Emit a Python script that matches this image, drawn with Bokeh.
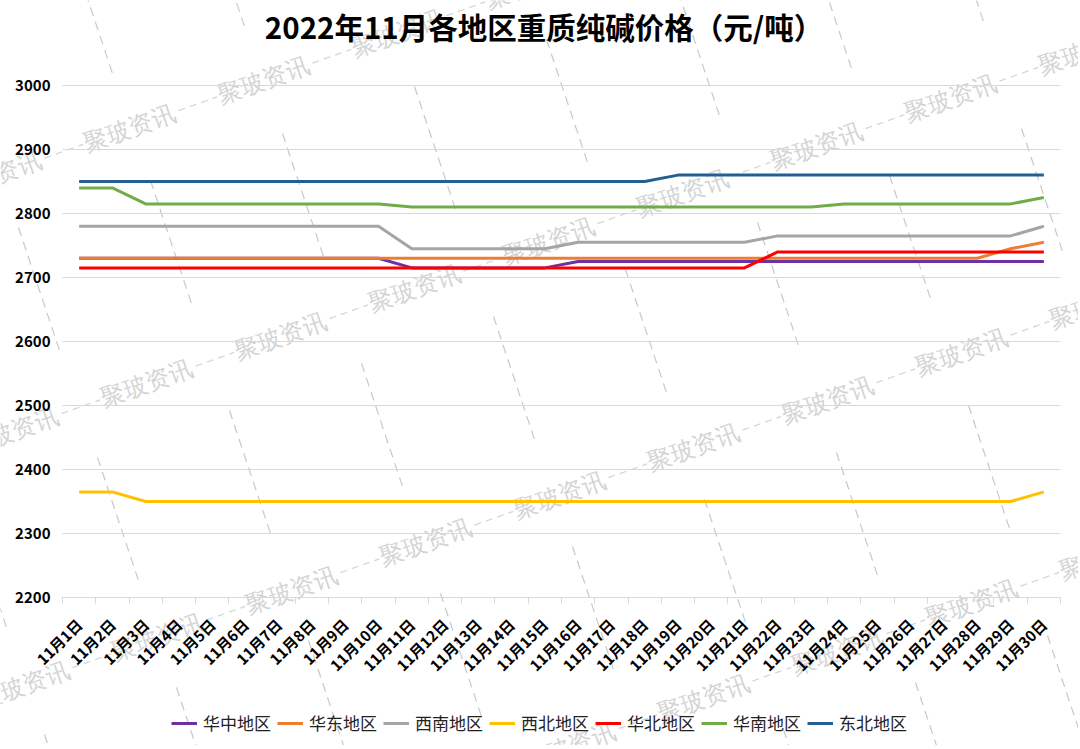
import math
from bokeh.plotting import figure
from bokeh.models import (FixedTicker, Legend, LegendItem, Label, LabelSet, Range1d,
                          Arrow, ColumnDataSource)
from bokeh.embed import file_html
from bokeh.resources import INLINE

# ---------------- data ----------------
days = list(range(1, 31))
day_labels = [f"11月{d}日" for d in days]
series_names = ["华中地区", "华东地区", "西南地区", "西北地区", "华北地区", "华南地区", "东北地区"]
huazhong = [2730] * 10 + [2715] * 5 + [2725] * 15
huadong = [2730] * 28 + [2745, 2755]
xinan = [2780] * 10 + [2745] * 5 + [2755] * 6 + [2765] * 8 + [2780]
xibei = [2365] * 2 + [2350] * 27 + [2365]
huabei = [2715] * 21 + [2740] * 9
huanan = [2840] * 2 + [2815] * 8 + [2810] * 13 + [2815] * 6 + [2825]
dongbei = [2850] * 18 + [2860] * 12
y_ticks = list(range(2200, 3001, 100))
title_text = "2022年11月各地区重质纯碱价格（元/吨）"
watermark_text = "聚玻资讯"

series_values = [huazhong, huadong, xinan, xibei, huabei, huanan, dongbei]
colors = ["#7030A0", "#ED7D31", "#A5A5A5", "#FFC000", "#FF0000", "#70AD47", "#255E91"]

# ---------------- geometry (page pixels) ----------------
W, H = 1078, 745
PL, PR, PT, PB = 62.0, 1060.0, 85.0, 597.0   # where x 0.5..30.5 and y 3000..2200 sit


def xd(px):
    return 0.5 + (px - PL) * 30.0 / (PR - PL)


def yd(py):
    return 3000.0 - (py - PT) * 800.0 / (PB - PT)


x_lo, x_hi = days[0] - 0.5, days[-1] + 0.5
y_lo, y_hi = y_ticks[0], y_ticks[-1]

p = figure(width=W, height=H, x_range=Range1d(xd(0), xd(W)), y_range=Range1d(yd(H), yd(0)),
           output_backend="svg", toolbar_location=None,
           min_border_left=0, min_border_right=0, min_border_top=0, min_border_bottom=0)
p.outline_line_color = None
p.background_fill_color = "white"
p.border_fill_color = "white"

# ---------------- watermark (decoration) ----------------
wm_color = "#D4D4D4"
step = (134.0, -47.5)
ln = math.hypot(*step)
u = (step[0] / ln, step[1] / ln)
ang = math.atan2(-step[1], step[0])
chain_origins = [(263, 80), (682, 193), (693, 447), (971, 603)]
tx, ty, dx0, dy0, dx1, dy1 = [], [], [], [], [], []
for ox, oy in chain_origins:
    for k in range(-10, 11):
        cx, cy = ox + k * step[0], oy + k * step[1]
        if -80 < cx < 1160 and -60 < cy < 800:
            tx.append(xd(cx)); ty.append(yd(cy))
            sx, sy = cx + u[0] * 52, cy + u[1] * 52
            ex, ey = cx + u[0] * 93, cy + u[1] * 93
            dx0.append(xd(sx)); dy0.append(yd(sy)); dx1.append(xd(ex)); dy1.append(yd(ey))
wm_src = ColumnDataSource(dict(x=tx, y=ty, t=[watermark_text] * len(tx)))
p.add_layout(LabelSet(x="x", y="y", text="t", source=wm_src, angle=ang,
                      text_align="center", text_baseline="middle",
                      text_font="Noto Sans CJK SC", text_font_size="24px",
                      text_color=wm_color, level="underlay"))
dash_src = ColumnDataSource(dict(x0=dx0, y0=dy0, x1=dx1, y1=dy1))
p.add_layout(Arrow(end=None, x_start="x0", y_start="y0", x_end="x1", y_end="y1",
                   source=dash_src, line_color=wm_color, line_width=1.2,
                   line_dash="7 5", level="underlay"))

row_origins = [(71, -50), (18, 227), (97, 457), (44, 734), (-9, 1011)]
rstep = (132.0, -47.0)
sx0, sy0, sx1, sy1 = [], [], [], []
for ox, oy in row_origins:
    for k in range(-2, 12):
        ax, ay = ox + k * rstep[0], oy + k * rstep[1]
        bx, by = ax + 41, ay + 123
        if bx < -10 or ax > 1100 or by < -10 or ay > 760:
            continue
        sx0.append(xd(ax)); sy0.append(yd(ay)); sx1.append(xd(bx)); sy1.append(yd(by))
seg_src = ColumnDataSource(dict(x0=sx0, y0=sy0, x1=sx1, y1=sy1))
p.add_layout(Arrow(end=None, x_start="x0", y_start="y0", x_end="x1", y_end="y1",
                   source=seg_src, line_color="#C8C8C8", line_width=1.2,
                   line_dash="9 6", level="underlay"))

# ---------------- horizontal gridlines at the y ticks ----------------
p.segment(x0=[x_lo] * len(y_ticks), x1=[x_hi] * len(y_ticks), y0=y_ticks, y1=y_ticks,
          line_color="#D9D9D9", line_width=1)

# ---------------- series ----------------
items = []
for name, vals, col in zip(series_names, series_values, colors):
    r = p.line(days, vals, line_color=col, line_width=3)
    items.append(LegendItem(label=name, renderers=[r]))

# ---------------- axes ----------------
p.xaxis.fixed_location = y_lo
p.xaxis.bounds = (x_lo, x_hi)
p.xaxis.ticker = FixedTicker(ticks=days, minor_ticks=[d + 0.5 for d in range(0, 31)])
p.xaxis.major_label_overrides = {d: lab for d, lab in zip(days, day_labels)}
p.xaxis.major_label_orientation = math.pi / 4
p.xaxis.major_tick_line_color = None
p.xaxis.major_tick_out = 0
p.xaxis.major_tick_in = 0
p.xaxis.minor_tick_line_color = "#D9D9D9"
p.xaxis.minor_tick_out = 6
p.xaxis.minor_tick_in = 0
p.xaxis.axis_line_color = "#D9D9D9"
p.xaxis.major_label_text_font = "Noto Sans CJK SC"
p.xaxis.major_label_text_font_style = "bold"
p.xaxis.major_label_text_font_size = "15px"
p.xaxis.major_label_text_color = "black"
p.xaxis.major_label_standoff = 18

p.yaxis.fixed_location = x_lo
p.yaxis.bounds = (y_lo, y_hi)
p.yaxis.ticker = FixedTicker(ticks=y_ticks)
p.yaxis.axis_line_color = None
p.yaxis.major_tick_line_color = None
p.yaxis.major_tick_out = 0
p.yaxis.major_tick_in = 0
p.yaxis.minor_tick_line_color = None
p.yaxis.major_label_text_font = "Noto Sans CJK SC"
p.yaxis.major_label_text_font_style = "bold"
p.yaxis.major_label_text_font_size = "15px"
p.yaxis.major_label_text_color = "black"
p.yaxis.major_label_standoff = 12

p.xgrid.grid_line_color = None
p.ygrid.grid_line_color = None

# ---------------- title ----------------
p.add_layout(Label(x=xd(543.5), y=yd(25), text=title_text, text_align="center",
                   text_baseline="middle", text_font="Noto Sans CJK SC",
                   text_font_size="29.5px", text_font_style="bold", text_color="black"))

# ---------------- legend ----------------
legend = Legend(items=items, orientation="horizontal", location=(171, 10),
                label_text_font="Noto Sans CJK SC", label_text_font_size="17px",
                label_text_color="#222222", glyph_width=26, glyph_height=20,
                label_height=20, label_standoff=6, spacing=6, padding=0, margin=0,
                border_line_color=None, background_fill_alpha=0)
p.add_layout(legend, "center")

open("out.html", "w").write(file_html(p, INLINE))
